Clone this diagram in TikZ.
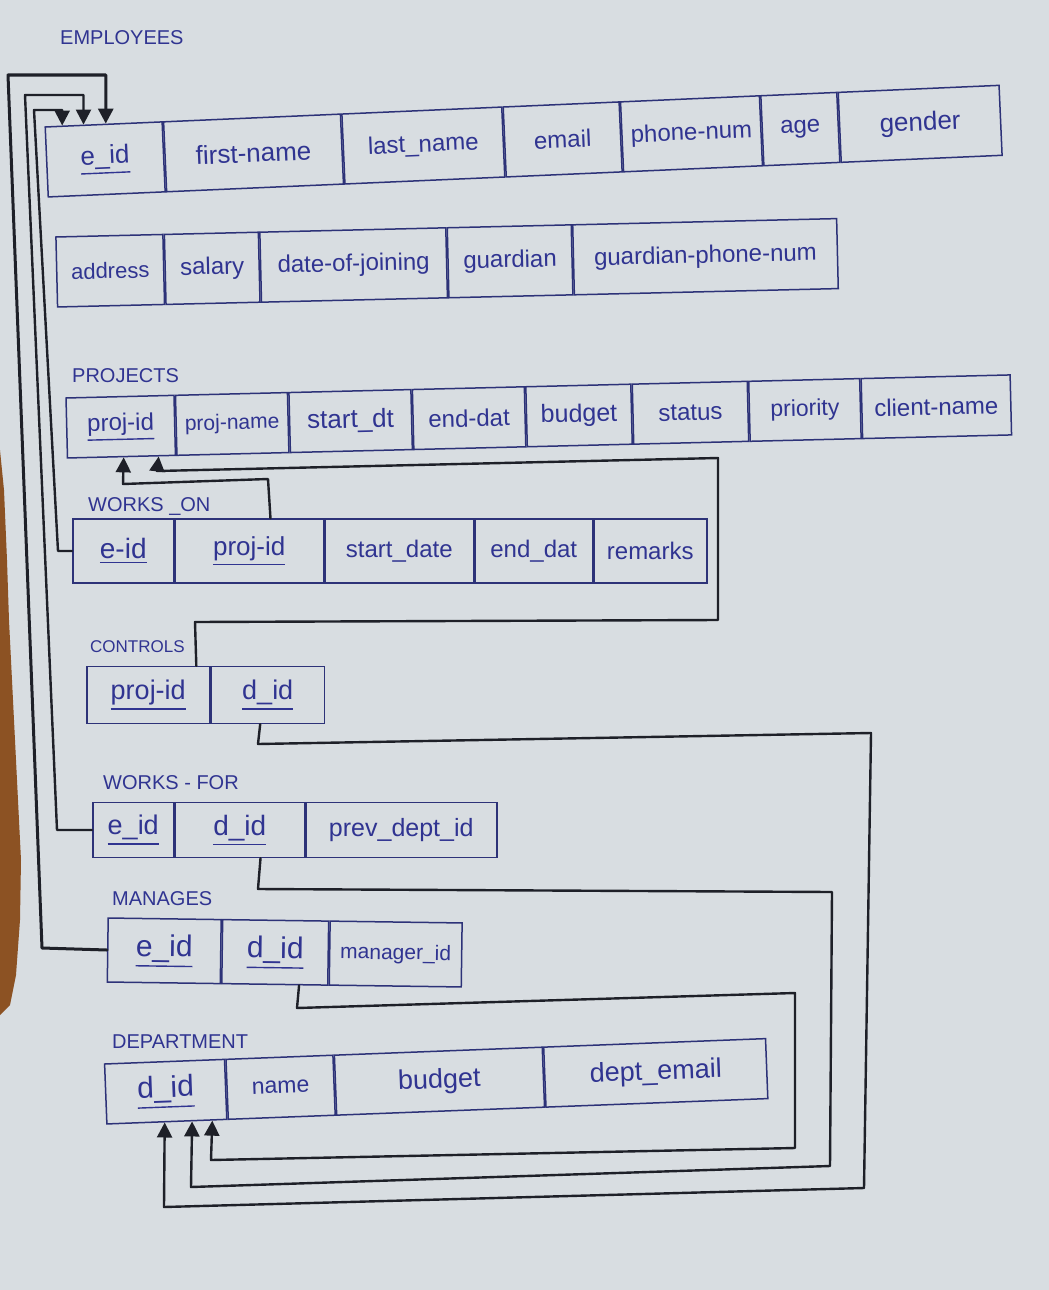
\documentclass[tikz,border=0pt]{standalone}
\usepackage{fontspec}
\setmainfont{Liberation Sans}
\usetikzlibrary{arrows.meta,calc}
\definecolor{paper}{RGB}{216,221,225}
\definecolor{wood}{RGB}{140,82,35}
\definecolor{tline}{RGB}{45,50,120}
\definecolor{tink}{RGB}{48,52,145}
\definecolor{cink}{RGB}{30,32,40}
\newcommand\pkey[1]{\leavevmode\vtop{\hbox{#1}\kern3pt\hrule height 1.4pt}}
\begin{document}
\begin{tikzpicture}[x=1pt,y=1pt,
  cell/.style={draw=tline,line width=1.5pt,inner sep=0pt,anchor=west,transform shape,text=tink,font=\fontsize{24}{28}\selectfont},
  lbl/.style={anchor=west,text=tink,inner sep=0pt,font=\fontsize{20}{24}\selectfont},
  conn/.style={draw=cink,line width=2.4pt,line join=round,line cap=round},
  arr/.style={conn,-{Triangle[width=15pt,length=15pt]}}]
\useasboundingbox (0,0) rectangle (1049,-1290);
\fill[paper] (0,0) rectangle (1049,-1290);
\fill[wood] (0,-450) -- (4,-490) -- (7,-560) -- (9,-620) -- (12,-680) -- (15,-740) -- (18,-800) -- (21,-860) -- (20,-920) -- (16,-975) -- (10,-1005) -- (0,-1015) -- cycle;

% labels
\node[lbl] (l-emp) at (60,-38) {EMPLOYEES};
\node[lbl] (l-proj) at (72,-376) {PROJECTS};
\node[lbl] (l-wo) at (88,-506) {WORKS \_ON};
\node[lbl,font=\fontsize{17}{20}\selectfont] (l-ct) at (90,-647) {CONTROLS};
\node[lbl] (l-wf) at (103,-783) {WORKS - FOR};
\node[lbl] (l-mg) at (112,-899) {MANAGES};
\node[lbl] (l-dep) at (112,-1042) {DEPARTMENT};

% EMPLOYEES row 1
\begin{scope}[shift={(46,-162)},rotate=2.5,every node/.append style={minimum height=70}]
\node[cell,minimum width=117,font=\fontsize{26}{30}\selectfont] (e-eid) at (0,0) {\pkey{e\_id}};
\node[cell,minimum width=177,font=\fontsize{26}{30}\selectfont] (e-fn) at (e-eid.east) {first-name};
\node[cell,minimum width=160] (e-ln) at (e-fn.east) {last\_name};
\node[cell,minimum width=116] (e-em) at (e-ln.east) {email};
\node[cell,minimum width=139] (e-ph) at (e-em.east) {phone-num};
\node[cell,minimum width=76] (e-age) at (e-ph.east) {age};
\node[cell,minimum width=161,font=\fontsize{26}{30}\selectfont] (e-gen) at (e-age.east) {gender};
\end{scope}

% EMPLOYEES row 2
\begin{scope}[shift={(56,-272)},rotate=1.35,every node/.append style={minimum height=70}]
\node[cell,minimum width=107,font=\fontsize{22}{26}\selectfont] (e-adr) at (0,0) {address};
\node[cell,minimum width=94] (e-sal) at (e-adr.east) {salary};
\node[cell,minimum width=186] (e-doj) at (e-sal.east) {date-of-joining};
\node[cell,minimum width=124] (e-gua) at (e-doj.east) {guardian};
\node[cell,minimum width=264] (e-gph) at (e-gua.east) {guardian-phone-num};
\end{scope}

% PROJECTS
\begin{scope}[shift={(66,-428)},rotate=1.4,every node/.append style={minimum height=60}]
\node[cell,minimum width=108,font=\fontsize{24}{28}\selectfont] (p-pid) at (0,0) {\pkey{proj-id}};
\node[cell,minimum width=112,font=\fontsize{21}{25}\selectfont] (p-pn) at (p-pid.east) {proj-name};
\node[cell,minimum width=122,font=\fontsize{26}{30}\selectfont] (p-sd) at (p-pn.east) {start\_dt};
\node[cell,minimum width=112,font=\fontsize{24}{28}\selectfont] (p-ed) at (p-sd.east) {end-dat};
\node[cell,minimum width=105,font=\fontsize{25}{29}\selectfont] (p-bud) at (p-ed.east) {budget};
\node[cell,minimum width=115,font=\fontsize{24}{28}\selectfont] (p-st) at (p-bud.east) {status};
\node[cell,minimum width=111,font=\fontsize{23}{27}\selectfont] (p-pri) at (p-st.east) {priority};
\node[cell,minimum width=149,font=\fontsize{24}{28}\selectfont] (p-cn) at (p-pri.east) {client-name};
\end{scope}

% WORKS_ON
\begin{scope}[shift={(72,-551)},every node/.append style={minimum height=64}]
\node[cell,minimum width=101,font=\fontsize{28}{32}\selectfont] (wo-eid) at (0,0) {\pkey{e-id}};
\node[cell,minimum width=148,font=\fontsize{26}{30}\selectfont] (wo-pid) at (wo-eid.east) {\pkey{proj-id}};
\node[cell,minimum width=149] (wo-sd) at (wo-pid.east) {start\_date};
\node[cell,minimum width=117] (wo-ed) at (wo-sd.east) {end\_dat};
\node[cell,minimum width=113] (wo-rm) at (wo-ed.east) {remarks};
\end{scope}

% CONTROLS
\begin{scope}[shift={(86,-695)},every node/.append style={minimum height=57}]
\node[cell,minimum width=123,font=\fontsize{27}{31}\selectfont] (ct-pid) at (0,0) {\pkey{proj-id}};
\node[cell,minimum width=113,font=\fontsize{27}{31}\selectfont] (ct-did) at (ct-pid.east) {\pkey{d\_id}};
\end{scope}

% WORKS_FOR
\begin{scope}[shift={(92,-830)},every node/.append style={minimum height=55}]
\node[cell,minimum width=81,font=\fontsize{27}{31}\selectfont] (wf-eid) at (0,0) {\pkey{e\_id}};
\node[cell,minimum width=129,font=\fontsize{28}{32}\selectfont] (wf-did) at (wf-eid.east) {\pkey{d\_id}};
\node[cell,minimum width=191,font=\fontsize{25}{29}\selectfont] (wf-pd) at (wf-did.east) {prev\_dept\_id};
\end{scope}

% MANAGES
\begin{scope}[shift={(107,-950)},rotate=-0.8,every node/.append style={minimum height=64}]
\node[cell,minimum width=113,font=\fontsize{30}{34}\selectfont] (mg-eid) at (0,0) {\pkey{e\_id}};
\node[cell,minimum width=106,font=\fontsize{30}{34}\selectfont] (mg-did) at (mg-eid.east) {\pkey{d\_id}};
\node[cell,minimum width=132,font=\fontsize{21}{25}\selectfont] (mg-mid) at (mg-did.east) {manager\_id};
\end{scope}

% DEPARTMENT
\begin{scope}[shift={(105,-1094)},rotate=2.2,every node/.append style={minimum height=60}]
\node[cell,minimum width=120,font=\fontsize{30}{34}\selectfont] (d-did) at (0,0) {\pkey{d\_id}};
\node[cell,minimum width=107,font=\fontsize{23}{27}\selectfont] (d-nm) at (d-did.east) {name};
\node[cell,minimum width=208,font=\fontsize{27}{31}\selectfont] (d-bud) at (d-nm.east) {budget};
\node[cell,minimum width=222,font=\fontsize{27}{31}\selectfont] (d-em) at (d-bud.east) {dept\_email};
\end{scope}

% anchor points on the table edges
\coordinate (a1) at ($(e-eid.north west)!0.150!(e-eid.north east)$);
\coordinate (a2) at ($(e-eid.north west)!0.330!(e-eid.north east)$);
\coordinate (a3) at ($(e-eid.north west)!0.518!(e-eid.north east)$);
\coordinate (p1) at ($(p-pid.south west)!0.52!(p-pid.south east)$);
\coordinate (p2) at ($(p-pid.south west)!0.84!(p-pid.south east)$);
\coordinate (b1) at ($(wo-pid.north west)!0.642!(wo-pid.north east)$);
\coordinate (c1) at ($(ct-pid.north west)!0.886!(ct-pid.north east)$);
\coordinate (d1) at ($(ct-did.south west)!0.434!(ct-did.south east)$);
\coordinate (w1) at ($(wf-did.south west)!0.659!(wf-did.south east)$);
\coordinate (m1) at ($(mg-did.south west)!0.726!(mg-did.south east)$);
\coordinate (q1) at ($(d-did.south west)!0.482!(d-did.south east)$);
\coordinate (q2) at ($(d-did.south west)!0.708!(d-did.south east)$);
\coordinate (q3) at ($(d-did.south west)!0.874!(d-did.south east)$);

% foreign keys to EMPLOYEES.e_id
\draw[arr] (wo-eid.west) -- (58,-551) -- (34,-110) -| (a1);
\draw[arr] (wf-eid.west) -- (57,-830) -- (25,-95) -| (a2);
\draw[arr,line width=3pt] (mg-eid.west) -- (42,-948) -- (8,-75) -| (a3);

% foreign keys to PROJECTS.proj-id
\draw[arr] (b1) -- (268,-479) -- (123,-484) -- (p1);
\draw[arr] (c1) -- (195,-622) -- (718,-620) -- (718,-458) -- (157,-471) -- (p2);

% foreign keys to DEPARTMENT.d_id
\draw[arr] (d1) -- (258,-744) -- (871,-733) -- (864,-1188) -- (164,-1207) -- (q1);
\draw[arr] (w1) -- (258,-889) -- (832,-892) -- (830,-1166) -- (191,-1187) -- (q2);
\draw[arr] (m1) -- (297,-1008) -- (795,-993) -- (795,-1148) -- (211,-1160) -- (q3);
\end{tikzpicture}
\end{document}
